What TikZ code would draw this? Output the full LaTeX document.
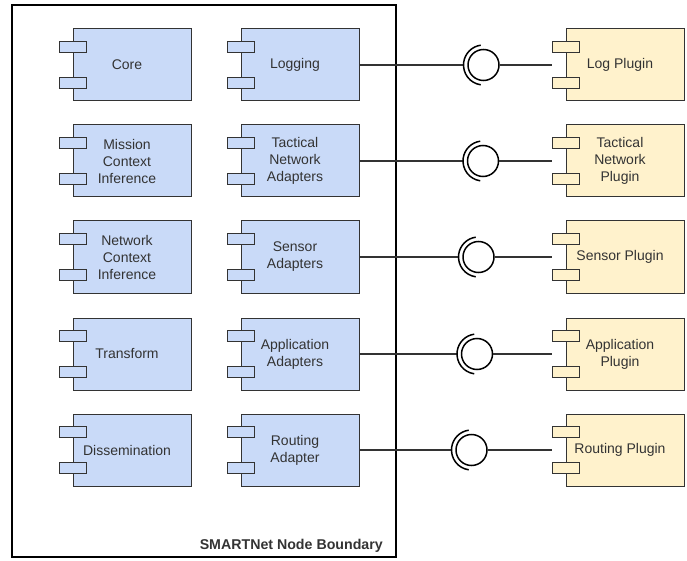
\documentclass[tikz,border=0pt]{standalone}
\usepackage{fontspec}
\setmainfont{Liberation Sans}
\usepackage{tikz}
\usetikzlibrary{calc}
\definecolor{compblue}{HTML}{C9DAF8}
\definecolor{plugyellow}{HTML}{FFF2CC}
\definecolor{textgray}{HTML}{333333}

\tikzset{
  body/.style={draw=black!80, line width=1pt, minimum width=118pt, minimum height=72pt, inner sep=0pt},
  port/.style={draw=black!80, line width=1pt, minimum width=27pt, minimum height=11pt, inner sep=0pt},
  comptext/.style={text=textgray, align=center, font=\fontsize{14}{17}\selectfont, inner sep=0pt},
  wire/.style={draw=black!80, line width=2pt},
  ball/.style={circle, draw=black, line width=1.5pt, fill=white, minimum size=31pt, inner sep=0pt},
  boundary/.style={draw=black, line width=2pt, minimum width=384pt, minimum height=552pt, inner sep=0pt},
}

% component box: name, x, y, fill, label
\newcommand{\umlcomp}[5]{%
  \node[body, fill=#4] (#1) at (#2,#3) {};
  \node[port, fill=#4] (#1-p1) at ([shift={(0.5,18.5)}]#1.north west) {};
  \node[port, fill=#4] (#1-p2) at ([shift={(0.5,54.5)}]#1.north west) {};
  \node[comptext] (#1-txt) at ([xshift=-5pt]#1.center) {#5};
}

\begin{document}
\begin{tikzpicture}[x=1pt, y=-1pt]
  \useasboundingbox (0,0) rectangle (687,561);

  \node[boundary] (bnd) at (204,281) {};
  \node[comptext, font=\fontsize{14.2}{16}\selectfont\bfseries, anchor=base east] (bndlabel) at (383,549) {SMARTNet Node Boundary};

  % inside the node
  \umlcomp{core}{132}{65}{compblue}{Core}
  \umlcomp{logging}{300}{65}{compblue}{Logging}
  \umlcomp{mission}{132}{161}{compblue}{Mission\\Context\\Inference}
  \umlcomp{tactical}{300}{161}{compblue}{Tactical\\Network\\Adapters}
  \umlcomp{network}{132}{257}{compblue}{Network\\Context\\Inference}
  \umlcomp{sensor}{300}{257}{compblue}{Sensor\\Adapters}
  \umlcomp{transform}{132}{354}{compblue}{Transform}
  \umlcomp{application}{300}{354}{compblue}{Application\\Adapters}
  \umlcomp{dissem}{132}{450}{compblue}{Dissemination}
  \umlcomp{routing}{300}{450}{compblue}{Routing\\Adapter}

  % plugins
  \umlcomp{logplug}{625}{65}{plugyellow}{Log Plugin}
  \umlcomp{tacplug}{625}{161}{plugyellow}{Tactical\\Network\\Plugin}
  \umlcomp{senplug}{625}{257}{plugyellow}{Sensor Plugin}
  \umlcomp{appplug}{625}{354}{plugyellow}{Application\\Plugin}
  \umlcomp{routplug}{625}{450}{plugyellow}{Routing Plugin}

  % ball and socket links
  \foreach \src/\dst/\off [count=\i] in {logging/logplug/124, tactical/tacplug/123.5,
      sensor/senplug/119, application/appplug/117.5, routing/routplug/112}{
    \node[ball] (b\i) at ([xshift=\off]\src.east) {};
    \coordinate (s\i) at ([xshift=-20]b\i.center);
    \draw[wire] (\src.east) -- (s\i);
    \draw[wire] (b\i.east) -- (b\i.east -| \dst-p1.west);
    \draw[line width=1.5pt] ([shift={(98:20)}]b\i.center) arc[start angle=98, end angle=262, radius=20];
  }
\end{tikzpicture}
\end{document}
